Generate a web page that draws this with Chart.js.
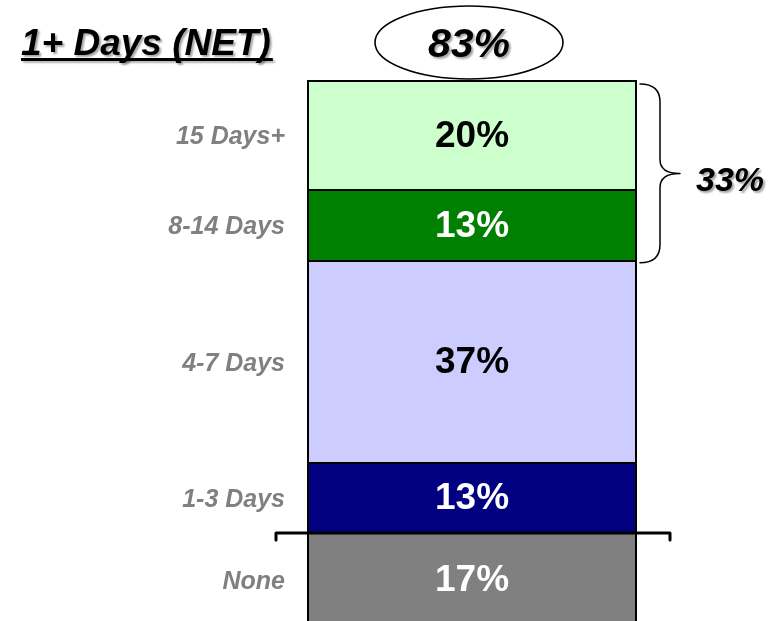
<!DOCTYPE html>
<html>
<head>
<meta charset="utf-8">
<script src="https://cdn.jsdelivr.net/npm/chart.js@4"></script>
<style>
  html, body { margin: 0; padding: 0; background: #ffffff; overflow: hidden; }
  #wrap { width: 777px; height: 621px; overflow: hidden; }
  canvas { display: block; }
</style>
</head>
<body>
<div id="wrap"><canvas id="c" width="777" height="626"></canvas></div>
<script>
// ---- data (bottom to top) ----
const categories = ['Total'];
const segmentLabels = ['None', '1-3 Days', '4-7 Days', '8-14 Days', '15 Days+'];
const segmentValues = [17, 13, 37, 13, 20];
const netLabel = '1+ Days (NET)';
const netValues = [83];        // circled total
const bracketValues = [33];    // 8-14 Days + 15 Days+
const bracketRange = [3, 4];   // indexes of segments grouped by the brace

// ---- styles ----
const FONT = '"Liberation Sans", Arial, Helvetica, sans-serif';
const fillColors = ['#808080', '#000080', '#CCCCFF', '#008000', '#CCFFCC'];
const valueTextColors = ['#ffffff', '#ffffff', '#000000', '#ffffff', '#000000'];

const datasets = segmentLabels.map((lab, i) => ({
  label: lab,
  data: [segmentValues[i]],
  backgroundColor: fillColors[i],
  borderColor: '#000000',
  borderWidth: { top: 0, left: 2, right: 2, bottom: 0 },
  borderSkipped: false,
  inflateAmount: 0,
  categoryPercentage: 1.0,
  barPercentage: 1.0
}));

const overlay = {
  id: 'overlay',
  afterDatasetsDraw(chart) {
    const ctx = chart.ctx;
    const yScale = chart.scales.y;
    ctx.save();
    // segment separators (crisp) + labels
    chart.data.datasets.forEach((ds, i) => {
      const el = chart.getDatasetMeta(i).data[0];
      const top = Math.min(el.y, el.base);
      const bot = Math.max(el.y, el.base);
      const left = el.x - el.width / 2;
      ctx.fillStyle = '#000000';
      ctx.fillRect(Math.round(left), Math.round(top) - 1, Math.round(el.width), 2);
    });
    chart.data.datasets.forEach((ds, i) => {
      const el = chart.getDatasetMeta(i).data[0];
      const top = Math.min(el.y, el.base);
      const bot = Math.max(el.y, el.base);
      const cy = (top + bot) / 2;
      ctx.textBaseline = 'middle';
      ctx.font = 'bold 37px ' + FONT;
      ctx.textAlign = 'center';
      ctx.fillStyle = valueTextColors[i];
      ctx.fillText(ds.data[0] + '%', el.x, cy + 1);
      ctx.font = 'italic bold 25px ' + FONT;
      ctx.textAlign = 'right';
      ctx.fillStyle = '#808080';
      ctx.fillText(segmentLabels[i], 285, cy + 2);
    });

    // bracket at the None / 1-3 boundary
    const yb = Math.round(yScale.getPixelForValue(segmentValues[0]));
    ctx.strokeStyle = '#000000';
    ctx.lineWidth = 3;
    ctx.lineCap = 'round';
    ctx.lineJoin = 'round';
    ctx.beginPath();
    ctx.moveTo(276, yb + 7);
    ctx.lineTo(276, yb);
    ctx.lineTo(670, yb);
    ctx.lineTo(670, yb + 7);
    ctx.stroke();

    // brace on the right
    let cumLow = 0;
    for (let k = 0; k < bracketRange[0]; k++) cumLow += segmentValues[k];
    let cumHigh = cumLow;
    for (let k = bracketRange[0]; k <= bracketRange[1]; k++) cumHigh += segmentValues[k];
    const bTop = yScale.getPixelForValue(cumHigh) + 3;
    const bBot = yScale.getPixelForValue(cumLow) + 2;
    const bMid = (bTop + bBot) / 2;
    const x0 = 640, x1 = 660, x2 = 680;
    ctx.lineWidth = 1.5;
    ctx.beginPath();
    ctx.moveTo(x0, bTop);
    ctx.quadraticCurveTo(x1, bTop, x1, bTop + 18);
    ctx.lineTo(x1, bMid - 14);
    ctx.quadraticCurveTo(x1, bMid, x2, bMid);
    ctx.quadraticCurveTo(x1, bMid, x1, bMid + 14);
    ctx.lineTo(x1, bBot - 18);
    ctx.quadraticCurveTo(x1, bBot, x0, bBot);
    ctx.stroke();

    // shadowed texts
    ctx.shadowColor = 'rgba(0,0,0,0.35)';
    ctx.shadowOffsetX = 2;
    ctx.shadowOffsetY = 2;
    ctx.shadowBlur = 2;
    ctx.fillStyle = '#000000';
    ctx.textBaseline = 'alphabetic';
    ctx.font = 'italic bold 34px ' + FONT;
    ctx.textAlign = 'left';
    ctx.fillText(bracketValues[0] + '%', 696, bMid + 18);

    ctx.font = 'italic bold 37px ' + FONT;
    ctx.fillText(netLabel, 21, 55);
    const w = ctx.measureText(netLabel).width;
    ctx.shadowColor = 'rgba(0,0,0,0.3)';
    ctx.fillRect(21, 58, w + 2, 3);

    ctx.shadowColor = 'rgba(0,0,0,0)';
    ctx.lineWidth = 1.6;
    ctx.beginPath();
    ctx.ellipse(469, 42.5, 94, 36.5, 0, 0, Math.PI * 2);
    ctx.stroke();

    ctx.shadowColor = 'rgba(0,0,0,0.35)';
    ctx.font = 'italic bold 41px ' + FONT;
    ctx.textAlign = 'center';
    ctx.fillText(netValues[0] + '%', 469, 57);
    ctx.restore();
  }
};

new Chart(document.getElementById('c'), {
  type: 'bar',
  data: { labels: categories, datasets: datasets },
  options: {
    responsive: false,
    animation: false,
    layout: { padding: { left: 307, right: 140, top: 81, bottom: 0 } },
    plugins: { legend: { display: false }, tooltip: { enabled: false } },
    scales: {
      x: { stacked: true, display: false },
      y: { stacked: true, display: false, min: 0, max: 100 }
    }
  },
  plugins: [overlay]
});
</script>
</body>
</html>
